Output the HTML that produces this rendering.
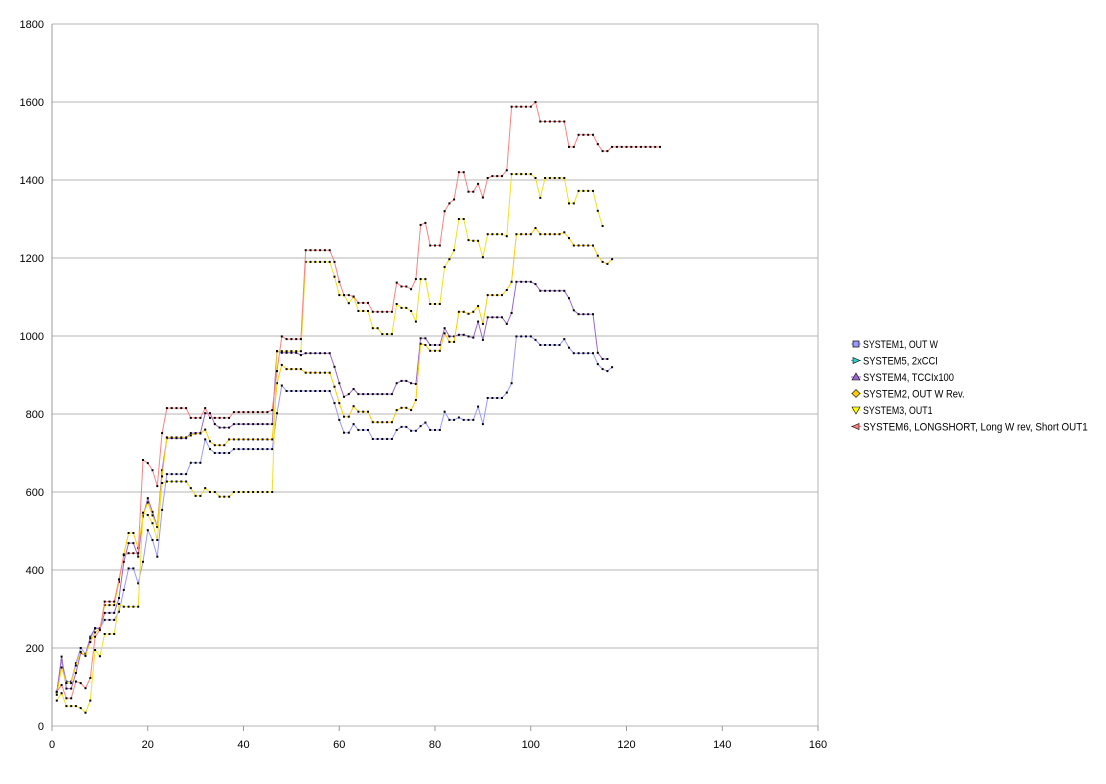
<!DOCTYPE html>
<html><head><meta charset="utf-8"><style>
html,body{margin:0;padding:0;background:#fff;}
svg{display:block;font-family:"Liberation Sans",sans-serif;}
</style></head><body>
<svg id="c" width="1106" height="784" xmlns="http://www.w3.org/2000/svg"></svg>
<script>
const X0=52,X1=818,Y0=726,Y1=24;
const px=i=>X0+i*(X1-X0)/160, py=v=>Y0-v*(Y0-Y1)/1800;
let s='';
for(let v=0;v<=1800;v+=200){const y=py(v);s+=`<line x1="${X0}" y1="${y}" x2="${X1}" y2="${y}" stroke="#b4b4b4" stroke-width="1"/>`;
s+=`<text x="${X0-8}" y="${y+4}" font-size="11" text-anchor="end">${v}</text>`;}
s+=`<line x1="${X0}" y1="${Y1}" x2="${X0}" y2="${Y0}" stroke="#999"/><line x1="${X1}" y1="${Y1}" x2="${X1}" y2="${Y0}" stroke="#b4b4b4"/>`;
for(let i=0;i<=160;i+=20){const x=px(i);s+=`<line x1="${x}" y1="${Y0}" x2="${x}" y2="${Y0+5}" stroke="#999"/><text x="${x}" y="${Y0+22}" font-size="11" text-anchor="middle">${i}</text>`;}
function build(spec){const a=[];for(const [i,v] of spec){a[i]=v;}let last;const out=[];for(let i=1;i<a.length;i++){if(a[i]!==undefined)last=a[i];out.push([i,last]);}return out;}
const blue=build([[1,88],[2,169],[3,114],[5,161],[6,200],[7,185],[8,229],[9,251],[11,272],[14,293],[15,349],[16,404],[18,366],[19,421],[20,502],[21,477],[22,434],[23,554],[24,646],[29,675],[32,735],[33,710],[34,700],[38,710],[47,802],[48,873],[49,859],[59,828],[60,785],[61,752],[63,774],[64,759],[67,736],[72,759],[73,767],[75,757],[77,769],[78,778],[79,759],[82,806],[83,785],[85,791],[86,785],[89,819],[90,774],[91,841],[95,855],[96,879],[97,999],[101,990],[102,977],[107,992],[108,970],[109,956],[114,928],[115,915],[116,910],[117,920]]);
const purple=build([[1,86],[2,178],[3,96],[5,136],[6,187],[7,180],[8,225],[9,250],[11,290],[14,328],[15,421],[16,469],[18,434],[19,537],[20,584],[21,549],[22,511],[23,656],[24,738],[29,751],[32,802],[34,774],[35,765],[38,774],[47,961],[48,957],[52,951],[53,956],[59,921],[60,879],[61,844],[62,851],[63,864],[64,851],[72,879],[73,885],[75,879],[76,877],[77,994],[79,977],[82,1020],[83,999],[85,1003],[87,999],[88,996],[89,1037],[90,990],[91,1048],[95,1031],[96,1059],[97,1139],[101,1133],[102,1116],[108,1097],[109,1066],[110,1056],[114,957],[115,941],[116,941]]);
const orange=build([[1,80],[2,150],[3,110],[5,155],[6,190],[7,180],[8,215],[9,240],[10,250],[11,310],[14,370],[15,440],[16,495],[18,456],[19,540],[20,573],[21,540],[22,510],[23,640],[24,740],[29,745],[30,750],[32,760],[33,730],[34,720],[37,735],[47,879],[48,926],[49,915],[53,906],[59,870],[60,828],[61,793],[63,820],[64,806],[67,779],[72,810],[73,816],[75,810],[76,836],[77,980],[78,977],[79,962],[82,1007],[83,985],[85,1062],[87,1057],[88,1062],[89,1077],[90,1031],[91,1105],[95,1118],[96,1139],[97,1261],[101,1277],[102,1261],[107,1266],[108,1251],[109,1232],[114,1206],[115,1190],[116,1185],[117,1197]]);
const yellow=build([[1,65],[2,84],[3,51],[6,46],[7,34],[8,65],[9,195],[10,179],[11,236],[14,313],[15,306],[19,547],[20,541],[21,520],[22,477],[23,623],[24,627],[29,610],[30,590],[32,610],[33,600],[35,588],[38,600],[47,961],[53,1190],[59,1152],[60,1105],[62,1084],[63,1101],[64,1064],[67,1020],[69,1005],[72,1082],[73,1072],[75,1064],[76,1037],[77,1146],[79,1082],[82,1177],[83,1197],[84,1220],[85,1300],[86,1300],[87,1246],[88,1244],[90,1202],[91,1261],[95,1256],[96,1415],[101,1405],[102,1354],[103,1405],[108,1340],[110,1372],[114,1321],[115,1282]]);
const red=build([[1,88],[2,105],[3,71],[5,114],[6,110],[7,97],[8,123],[9,229],[10,246],[11,319],[14,376],[15,438],[16,443],[19,682],[20,674],[21,656],[22,615],[23,751],[24,815],[29,790],[32,815],[33,790],[38,805],[46,810],[47,910],[48,999],[49,992],[53,1220],[59,1190],[60,1139],[61,1105],[63,1101],[64,1085],[67,1062],[72,1137],[73,1127],[75,1120],[76,1146],[77,1285],[78,1290],[79,1232],[82,1320],[83,1340],[84,1350],[85,1420],[87,1370],[89,1390],[90,1355],[91,1405],[92,1410],[95,1425],[96,1588],[101,1600],[102,1550],[108,1485],[110,1516],[114,1492],[115,1474],[117,1485],[127,1485]]);
function series(d,col){let p=d.map(([i,v])=>px(i).toFixed(1)+','+py(v).toFixed(1)).join(' ');
let r=`<polyline points="${p}" fill="none" stroke="${col}" stroke-width="1"/>`;
for(const [i,v] of d){r+=`<rect x="${(px(i)-1).toFixed(1)}" y="${(py(v)-1).toFixed(1)}" width="2" height="2" fill="#000"/>`;}
return r;}
s+=series(blue,'#9999ff')+series(purple,'#9966cc')+series(orange,'#ffcc00')+series(yellow,'#f0e020')+series(red,'#ff8080');
const leg=[['SYSTEM1, OUT W','#9999ff','sq'],['SYSTEM5, 2xCCI','#33cccc','rt'],['SYSTEM4, TCCIx100','#9966cc','up'],['SYSTEM2, OUT W Rev.','#ffcc00','di'],['SYSTEM3, OUT1','#ffff00','dn'],['SYSTEM6, LONGSHORT, Long W rev, Short OUT1','#ff8080','lt']];
leg.forEach(([t,c,m],k)=>{const y=344+k*16.5,x=856;
s+=`<line x1="${x-5}" y1="${y}" x2="${x+5}" y2="${y}" stroke="${c}"/>`;
let sh='';if(m=='sq')sh=`<rect x="${x-3}" y="${y-3}" width="6" height="6" fill="${c}" stroke="#000" stroke-width="0.7"/>`;
else if(m=='rt')sh=`<polygon points="${x-3},${y-3} ${x+4},${y} ${x-3},${y+3}" fill="${c}" stroke="#000" stroke-width="0.6"/>`;
else if(m=='up')sh=`<polygon points="${x-4},${y+3} ${x},${y-4} ${x+4},${y+3}" fill="${c}" stroke="#000" stroke-width="0.6"/>`;
else if(m=='di')sh=`<polygon points="${x},${y-4} ${x+4},${y} ${x},${y+4} ${x-4},${y}" fill="${c}" stroke="#000" stroke-width="0.6"/>`;
else if(m=='dn')sh=`<polygon points="${x-4},${y-3} ${x+4},${y-3} ${x},${y+4}" fill="${c}" stroke="#000" stroke-width="0.6"/>`;
else sh=`<polygon points="${x+3},${y-3} ${x-4},${y} ${x+3},${y+3}" fill="${c}" stroke="#000" stroke-width="0.6"/>`;
s+=sh+`<text x="${x+7}" y="${y+4}" font-size="11" textLength="${t.length*5.35}" lengthAdjust="spacingAndGlyphs">${t}</text>`;});
document.getElementById('c').innerHTML=s;
</script>
</body></html>
